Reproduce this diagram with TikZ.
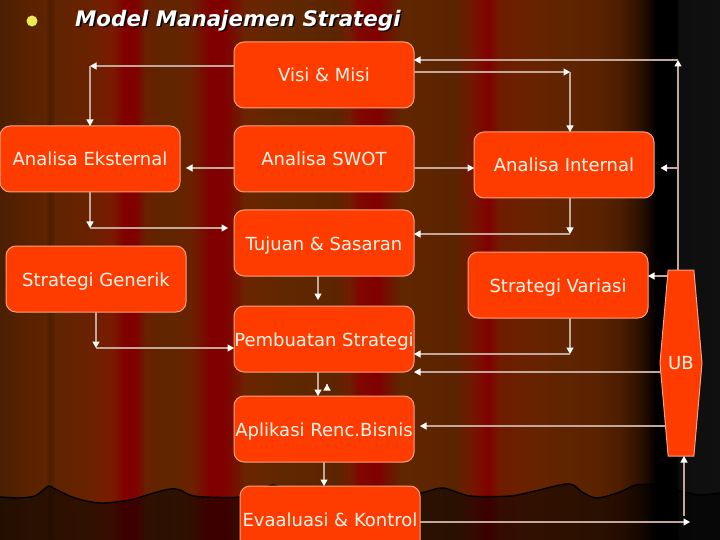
\documentclass[tikz,border=0pt]{standalone}
\usepackage{fontspec}
\setmainfont{DejaVu Sans}
\usetikzlibrary{positioning,shapes.symbols,arrows.meta}
\definecolor{boxfill}{HTML}{FF3C00}
\definecolor{boxline}{HTML}{F4A284}
\definecolor{boxtext}{HTML}{FFF4EA}
\definecolor{flowline}{HTML}{C2A89C}
\definecolor{bullet}{HTML}{E9EA55}
\newcommand{\bayang}[1]{\rlap{\kern1.6pt\raisebox{-1.6pt}{\color{black}#1}}#1}
\tikzset{
  box/.style={draw=boxline,fill=boxfill,text=boxtext,line width=1pt,rounded corners=10pt,
    minimum width=180pt,minimum height=66pt,inner sep=0pt,outer sep=0pt,text height=18pt,text depth=4pt,
    font=\fontsize{18}{21}\selectfont},
  flow/.style={draw=flowline,line width=1.25pt,-{Triangle[length=6.5pt,width=7pt,color=white,fill=white]}},
  judul/.style={anchor=west,inner sep=0pt,text=white,font=\fontsize{21.4}{26}\selectfont\bfseries\itshape}
}
\begin{document}
\begin{tikzpicture}[x=1pt,y=-1pt,node distance=84pt,on grid]
  \useasboundingbox (0,0) rectangle (720,540);
  \clip (0,0) rectangle (720,540);
  % curtain
  \foreach \xa/\ca/\xb/\cb in {
    0/4A1F02/30/5A2200, 30/5A2200/46/5C2400, 46/5C2400/50/4E1E00, 50/4E1E00/56/602400,
    56/602400/90/6A2200, 90/6A2200/112/7A1A00, 112/7A1A00/125/800000, 125/800000/135/800000,
    135/800000/146/682000, 146/682000/170/602600, 170/602600/192/6A2000, 192/6A2000/210/800000,
    210/800000/225/800000, 225/800000/245/6A2400, 245/6A2400/285/602800, 285/602800/325/5E2600,
    325/5E2600/335/5A2500, 335/5A2500/350/701C00, 350/701C00/358/800800, 358/800800/378/800000,
    378/800000/400/602600, 400/602600/455/5A2400, 455/5A2400/473/741600, 473/741600/488/800000,
    488/800000/500/701C00, 500/701C00/525/6A2200, 525/6A2200/565/602400, 565/602400/600/5A2200,
    600/5A2200/622/4A1C00, 622/4A1C00/642/2A0F00, 642/2A0F00/656/000000, 656/000000/676/000000,
    676/000000/680/0E0E0E, 680/0E0E0E/720/101010} {
    \definecolor{ca}{HTML}{\ca}\definecolor{cb}{HTML}{\cb}
    \shade[left color=ca,right color=cb] (\xa-0.3,0) rectangle (\xb+0.3,540);
  }
  \def\tepi{(0,497) (20,498) (35,496) (42,491) (49,486) (55,489) (75,498) (100,503) (130,500)
    (150,494) (170,489) (180,490) (190,495) (205,497) (240,497) (262,489) (273,485) (285,489) (320,495)
    (380,496) (420,493) (443,488) (470,496) (510,496) (535,491) (565,484) (575,486) (582,492)
    (597,498) (620,492) (636,485) (660,485) (685,492) (700,495) (720,493)}
  \fill[black,opacity=.53] plot[smooth,tension=.5] coordinates {\tepi} -- (720,540) -- (0,540) -- cycle;
  \draw[black,line width=1.4pt] plot[smooth,tension=.5] coordinates {\tepi};
  % title
  \node[circle,fill=bullet,minimum size=11pt,inner sep=0pt] (dot) at (32,21) {};
  \node[judul] (judul) at (75,21) {\bayang{Model Manajemen Strategi}};
  % boxes
  \node[box] (visi) at (324,75) {Visi \& Misi};
  \node[box] (swot) [below=of visi] {Analisa SWOT};
  \node[box] (ekst) [left=234pt of swot] {Analisa Eksternal};
  \node[box] (intern) [right=240pt of swot,yshift=-6pt] {Analisa Internal};
  \node[box] (tujuan) [below=of swot] {Tujuan \& Sasaran};
  \node[box] (generik) at (96,279) {Strategi Generik};
  \node[box] (variasi) at (558,285) {Strategi Variasi};
  \node[box] (buat) [below=96pt of tujuan] {Pembuatan Strategi};
  \node[box] (aplikasi) [below=90pt of buat] {Aplikasi Renc.Bisnis};
  \node[box] (evaluasi) [below=90pt of aplikasi,xshift=6pt] {Evaaluasi \& Kontrol};
  \node[draw=boxline,fill=boxfill,text=boxtext,line width=1pt,signal,signal to=east and west,
    signal pointer angle=170,minimum width=42pt,minimum height=186pt,inner sep=0pt,outer sep=0pt,
    font=\fontsize{18}{21}\selectfont] (ub) at (681,363) {UB};
  % junctions
  \coordinate (visiL) at (90,66);
  \coordinate (visiR) at (570,72);
  \coordinate (ekstD) at (90,228);
  \coordinate (internD) at (570,234);
  \coordinate (variasiD) at (570,354);
  \coordinate (genD) at (96,348);
  \coordinate (ubUp) at (678,60);
  \coordinate (ubMid) at (678,168);
  \coordinate (evalR) at (690,522);
  \coordinate (evalUp) at (684,516);
  % connectors
  \draw[flow] (visi.west |- visiL) -- (visiL);
  \draw[flow] (visiL) -- (visiL |- ekst.north);
  \draw[flow] (visi.east |- visiR) -- (visiR);
  \draw[flow] (visiR) -- (visiR |- intern.north);
  \coordinate (swotR) at (474,168);
  \draw[flow] (swot.east |- swotR) -- (swotR);
  \coordinate (swotL) at (186,168);
  \draw[flow] (swot.west |- swotL) -- (swotL);
  \draw[flow] (visiL |- ekst.south) -- (ekstD);
  \coordinate (tujuanL) at (228,228);
  \draw[flow] (ekstD) -- (tujuanL);
  \draw[flow] (internD |- intern.south) -- (internD);
  \draw[flow] (internD) -- (tujuan.east |- internD);
  \coordinate (tujuanD) at (318,300);
  \draw[flow] (tujuanD |- tujuan.south) -- (tujuanD);
  \draw[flow] (genD |- generik.south) -- (genD);
  \draw[flow] (genD) -- (buat.west |- genD);
  \draw[flow] (variasiD |- variasi.south) -- (variasiD);
  \draw[flow] (variasiD) -- (buat.east |- variasiD);
  \draw[flow] (tujuanD |- buat.south) -- (tujuanD |- aplikasi.north);
  \coordinate (stray) at (327,384.1);
  \draw[flow] (stray) -- ++(0,-0.1);
  \draw[flow] (aplikasi.south) -- (aplikasi.south |- evaluasi.north);
  % from UB
  \draw[flow] (ubUp |- ub.north) -- (ubUp);
  \draw[flow] (ubUp) -- (visi.east |- ubUp);
  \coordinate (ubMidL) at (660.5,168);
  \draw[flow] (ubMid) -- (ubMidL);
  \coordinate (ubVar) at (667,276);
  \draw[flow] (ubVar) -- (variasi.east |- ubVar);
  \coordinate (ubBuat) at (661,372);
  \draw[flow] (ubBuat) -- (buat.east |- ubBuat);
  \coordinate (ubApl) at (666,426);
  \coordinate (aplR) at (420,426);
  \draw[flow] (ubApl) -- (aplR);
  \draw[flow] (evaluasi.east |- evalR) -- (evalR);
  \draw[flow] (evalUp) -- (evalUp |- ub.south);
\end{tikzpicture}
\end{document}
